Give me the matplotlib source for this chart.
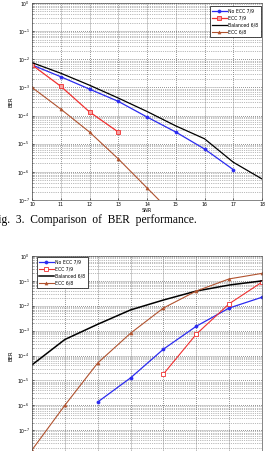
import numpy as np
import matplotlib
matplotlib.use('Agg')
import matplotlib.pyplot as plt
from matplotlib.ticker import LogLocator, NullFormatter

# ---- data ----
snr = [10, 11, 12, 13, 14, 15, 16, 17, 18]
ber_noecc79 = [6.3e-3, 2.4e-3, 8.7e-4, 3.2e-4, 8.9e-5, 2.6e-5, 6.5e-6, 1.2e-6]
ber_ecc79 = [6.3e-3, 1.1e-3, 1.35e-4, 2.6e-5]
ber_bal68 = [7.6e-3, 3.2e-3, 1.2e-3, 4.2e-4, 1.4e-4, 4.3e-5, 1.5e-5, 2.2e-6, 5.6e-7]
ber_ecc68 = [1.0e-3, 1.7e-4, 2.6e-5, 2.9e-6, 2.7e-7, 2.5e-8]

x2 = [1, 2, 3, 4, 5, 6, 7, 8]
ber2_bal68 = [4.2e-5, 4.4e-4, 1.8e-3, 6.8e-3, 1.7e-2, 3.9e-2, 6.8e-2, 1.0e-1]
ber2_ecc68 = [1.6e-8, 1.0e-6, 5.0e-5, 7.9e-4, 8.1e-3, 3.9e-2, 1.2e-1, 2.0e-1]
ber2_noecc79 = [1.35e-6, 1.26e-5, 1.8e-4, 1.5e-3, 8.1e-3, 2.2e-2]
ber2_ecc79 = [1.8e-5, 7.2e-4, 1.2e-2, 8.9e-2]

labels = ['No ECC 7/9', 'ECC 7/9', 'Balanced 6/8', 'ECC 6/8']
c_blue = '#2b2bf0'
c_red = '#f03030'
c_brown = '#b0522e'

W, H = 270, 451
fig = plt.figure(figsize=(W / 100, H / 100), dpi=100)
fig.patch.set_facecolor('white')


def style_ax(ax):
    ax.set_yscale('log')
    ax.yaxis.set_major_locator(LogLocator(base=10, numticks=20))
    ax.yaxis.set_minor_locator(LogLocator(base=10, subs=np.arange(2, 10), numticks=20))
    ax.yaxis.set_minor_formatter(NullFormatter())
    ax.grid(True, which='major', color='#555555', linestyle=':', linewidth=0.55)
    ax.grid(True, which='minor', axis='y', color='#777777', linestyle=':', linewidth=0.5)
    ax.tick_params(which='both', labelsize=3.3, length=1.5, width=0.4, pad=1.5, direction='in')
    ax.tick_params(which='minor', length=1)
    for s in ax.spines.values():
        s.set_linewidth(0.5)
        s.set_color('#555555')
    ax.set_ylabel('BER', fontsize=3.8, labelpad=3)


def add_legend(ax, loc, bbox):
    leg = ax.legend(labels, loc=loc, bbox_to_anchor=bbox, fontsize=3.3, handlelength=3.2,
                    borderpad=0.5, labelspacing=0.45, handletextpad=0.4, framealpha=1,
                    fancybox=False, edgecolor='black', borderaxespad=0)
    leg.get_frame().set_linewidth(0.5)


# top chart
ax1 = fig.add_axes([32 / W, 1 - 200 / H, 230 / W, 197 / H])
ax1.plot(snr[:len(ber_noecc79)], ber_noecc79, '-o', color=c_blue, lw=0.9, ms=2.2, mfc=c_blue, mew=0.5)
ax1.plot(snr[:len(ber_ecc79)], ber_ecc79, '-s', color=c_red, lw=0.9, ms=2.6, mfc='#f7a0a0', mew=0.6)
ax1.plot(snr, ber_bal68, '-', color='black', lw=0.9)
ax1.plot(snr[:len(ber_ecc68)], ber_ecc68, '-^', color=c_brown, lw=0.8, ms=2.2, mfc=c_brown, mew=0.4)
style_ax(ax1)
ax1.set_xlim(10, 18)
ax1.set_ylim(1e-7, 1)
ax1.set_xticks(snr)
ax1.set_xlabel('SNR', fontsize=3.5, labelpad=0.5)
add_legend(ax1, 'upper right', (0.995, 0.985))

# caption
fig.text(-8 / W, 1 - 220 / H, 'Fig.  3.  Comparison  of  BER  performance.',
         fontsize=8.3, family='Liberation Serif', va='center', ha='left')

# bottom chart (runs past the bottom edge of the picture)
ax2 = fig.add_axes([32 / W, 1 - 455 / H, 230 / W, 199 / H])
ax2.plot(x2[2:], ber2_noecc79, '-o', color=c_blue, lw=0.9, ms=2.2, mfc=c_blue, mew=0.5)
ax2.plot(x2[4:], ber2_ecc79, '-s', color=c_red, lw=0.8, ms=2.6, mfc='white', mew=0.6)
ax2.plot(x2, ber2_bal68, '-', color='black', lw=1.1)
ax2.plot(x2, ber2_ecc68, '-^', color=c_brown, lw=0.8, ms=2.2, mfc=c_brown, mew=0.4)
style_ax(ax2)
ax2.set_xlim(1, 8)
ax2.set_ylim(1e-8, 1)
ax2.set_xticks(x2)
ax2.tick_params(axis='x', labelbottom=False)
ax2.set_yticks([1e-7, 1e-6, 1e-5, 1e-4, 1e-3, 1e-2, 1e-1, 1])
add_legend(ax2, 'upper left', (0.02, 0.995))

fig.savefig('out.png', dpi=100)
